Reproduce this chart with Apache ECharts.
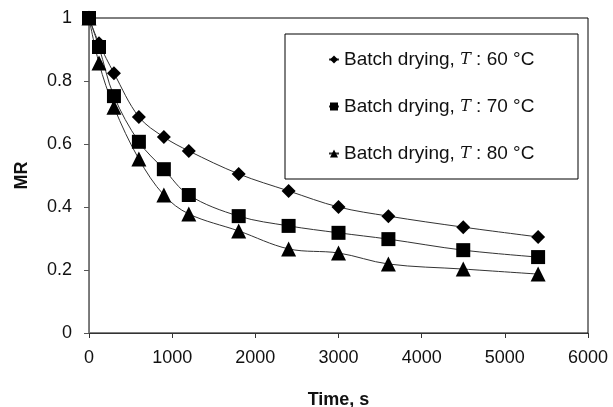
<!DOCTYPE html>
<html>
<head>
<meta charset="utf-8">
<script src="https://cdn.jsdelivr.net/npm/echarts@6/dist/echarts.min.js"></script>
<style>
  html, body { margin: 0; padding: 0; background: #fff; }
</style>
</head>
<body>
<div id="chart-container" style="width: 613px; height: 407px"></div>
<script>
// drying time in seconds
const times = [0, 120, 300, 600, 900, 1200, 1800, 2400, 3000, 3600, 4500, 5400];
// moisture ratio
const mr60 = [1, 0.92, 0.825, 0.686, 0.622, 0.578, 0.505, 0.451, 0.40, 0.371, 0.336, 0.305];
const mr70 = [1, 0.908, 0.752, 0.607, 0.52, 0.438, 0.371, 0.34, 0.318, 0.298, 0.263, 0.241];
const mr80 = [1, 0.857, 0.717, 0.552, 0.438, 0.378, 0.324, 0.267, 0.254, 0.219, 0.203, 0.187];
const seriesNames = ["60", "70", "80"];
const xTicks = [0, 1000, 2000, 3000, 4000, 5000, 6000];
const yTicks = [0, 0.2, 0.4, 0.6, 0.8, 1];

const font = "Liberation Sans";

function pairs(ys) {
  return times.map((t, i) => [t, ys[i]]);
}

function makeSeries(name, ys, symbol, size) {
  return {
    name: name,
    type: "line",
    data: pairs(ys),
    smooth: 0.35,
    symbol: symbol,
    symbolSize: size,
    showAllSymbol: true,
    itemStyle: { color: "#000" },
    lineStyle: { color: "#333", width: 1 },
    z: 3,
  };
}

let myChart = echarts.init(document.getElementById("chart-container"));
myChart.setOption({
  animation: false,
  textStyle: { fontFamily: font },
  grid: {
    left: 89,
    right: 25,
    top: 18,
    bottom: 74,
    outerBoundsMode: "none",
    containLabel: false,
    show: true,
    borderColor: "#000",
    borderWidth: 1,
  },
  graphic: [
    {
      type: "rect",
      shape: { x: 285, y: 34, width: 293, height: 145 },
      style: { fill: "#fff", stroke: "#000", lineWidth: 1 },
      z: 5,
    },
  ],
  legend: {
    orient: "vertical",
    left: 328,
    top: 50,
    padding: 0,
    itemGap: 28,
    itemWidth: 10,
    itemHeight: 10,
    z: 10,
    data: seriesNames.map((n) => ({ name: n })),
    formatter: (n) => "Batch drying, {i|T} : " + n + " °C",
    textStyle: {
      fontFamily: font,
      fontSize: 19,
      color: "#111",
      rich: {
        i: { fontFamily: "DejaVu Serif", fontStyle: "italic", fontSize: 16, color: "#111" },
      },
    },
  },
  xAxis: {
    type: "value",
    min: xTicks[0],
    max: xTicks[xTicks.length - 1],
    interval: 1000,
    name: "Time, s",
    nameLocation: "middle",
    nameGap: 58,
    nameTextStyle: { fontFamily: font, fontSize: 18, fontWeight: "bold", color: "#111" },
    axisLine: { lineStyle: { color: "#333", width: 1 } },
    axisTick: { show: true, inside: false, length: 5, lineStyle: { color: "#333" } },
    axisLabel: { fontSize: 18, color: "#111", margin: 16, formatter: (v) => String(v) },
    splitLine: { show: false },
  },
  yAxis: {
    type: "value",
    min: yTicks[0],
    max: yTicks[yTicks.length - 1],
    interval: 0.2,
    name: "MR",
    nameLocation: "middle",
    nameRotate: 90,
    nameGap: 58,
    nameTextStyle: { fontFamily: font, fontSize: 18, fontWeight: "bold", color: "#111" },
    axisLine: { show: true, lineStyle: { color: "#777", width: 1 } },
    axisTick: { show: true, length: 5, lineStyle: { color: "#555" } },
    axisLabel: { fontSize: 18, color: "#111", margin: 17, formatter: (v) => String(+v.toFixed(1)) },
    splitLine: { show: false },
  },
  series: [
    makeSeries("60", mr60, "diamond", 14),
    makeSeries("70", mr70, "rect", 14),
    makeSeries("80", mr80, "triangle", 15),
  ],
});
</script>
</body>
</html>
